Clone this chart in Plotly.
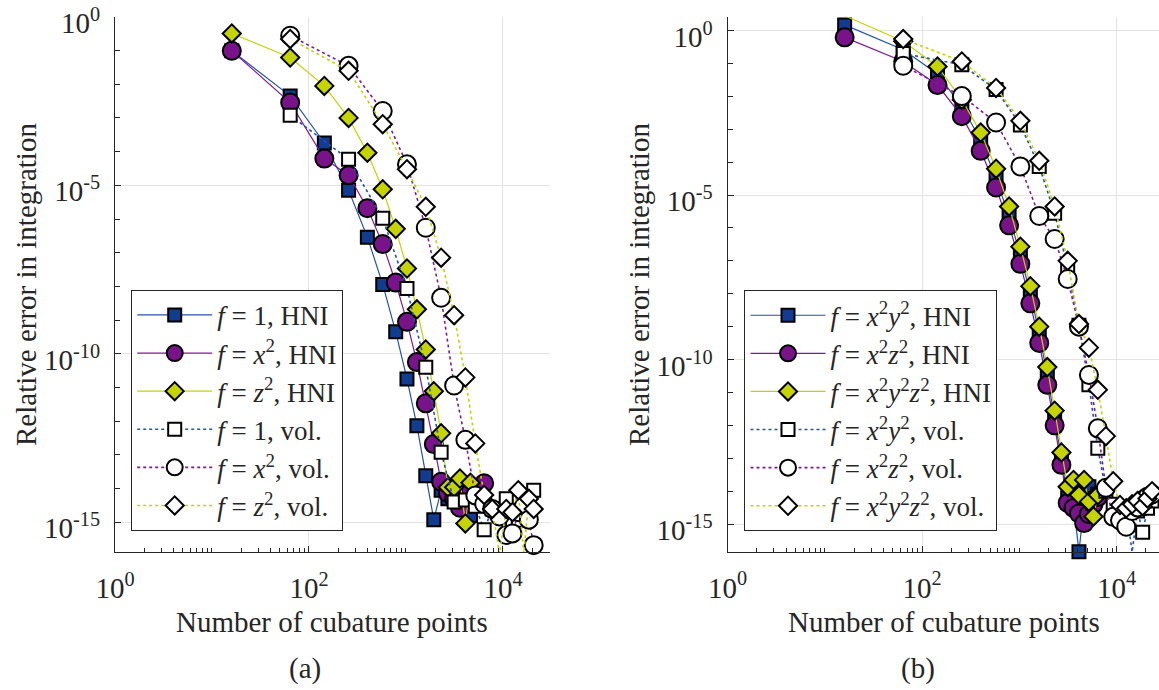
import plotly.graph_objects as go

# ---------------- data: panel (a) ----------------
n_hni_a = [16, 64, 144, 256, 400, 576, 784, 1024, 1296, 1600, 1936, 2304, 2704,
           3136, 3600, 4096, 4624, 5184, 5776, 6400]
err_a_one_hni = [9.8e-2, 4.5e-3, 1.8e-4, 7.1e-6, 2.9e-7, 1.15e-8, 4.5e-10, 1.8e-11,
                 7.4e-13, 2.4e-14, 1.2e-15, 9e-15, 5e-15, 6e-15, 4e-15, 3e-15, 1.6e-15]
err_a_x2_hni = [9.8e-2, 2.85e-3, 6.2e-5, 2.0e-5, 2.1e-6, 1.8e-7, 1.3e-8, 8.9e-10,
                5.7e-11, 3.4e-12, 2.1e-13, 1.6e-14, 7.4e-15, 5e-15, 2.7e-15, 6e-15,
                9e-15, 5e-15, 8e-15, 1.45e-14]
err_a_z2_hni = [0.32, 0.062, 8.9e-3, 1.0e-3, 9.3e-5, 7.6e-6, 5.1e-7, 3.4e-8, 2.1e-9,
                1.35e-10, 7.8e-12, 4.4e-13, 1.1e-14, 1.1e-14, 2.0e-14, 9.3e-16, 1.5e-14]

n_vol_a = [64, 256, 576, 1024, 1600, 2304, 3136, 4096, 5184, 6400, 7744, 9216,
           10816, 12544, 14400, 16384, 18496, 20736]
err_a_one_vol = [1.2e-3, 5.9e-5, 1.05e-6, 8.7e-9, 4.0e-11, 1.2e-13, 4e-15, 4.6e-15,
                 3e-15, 6e-16, 2.5e-15, 1.6e-15, 5e-15, 1.2e-15, 1.15e-15, 3e-15,
                 6e-15, 9e-15]
err_a_x2_vol = [0.275, 0.035, 1.6e-3, 4.2e-5, 5.5e-7, 4.6e-9, 1.15e-11, 2.8e-13,
                6.3e-15, 3.5e-15, 2.5e-15, 1.5e-15, 4.2e-16, 4.7e-16, 2.0e-15, 3.0e-15,
                1.2e-15, 2.1e-16]
err_a_z2_vol = [0.22, 0.025, 6.5e-4, 3.0e-5, 2.3e-6, 7.1e-8, 1.4e-9, 2.0e-11, 2.2e-13,
                6.5e-15, 2.5e-15, 1.2e-16, 2.5e-15, 2e-15, 9e-15, 1.2e-16, 5e-15, 2.5e-15]

# ---------------- data: panel (b) ----------------
n_hni_b = [16, 64, 144, 256, 400, 576, 784, 1024, 1296, 1600, 1936, 2304, 2704,
           3136, 3600, 4096, 4624, 5184, 5776, 6400]
err_b_xy_hni = [1.48, 0.26, 0.048, 4.9e-3, 4.8e-4, 3.2e-5, 2.2e-6, 1.5e-7, 1e-8,
                6.3e-10, 3.2e-11, 1.8e-12, 1e-13, 6.3e-15, 4e-15, 1.45e-16, 4e-15,
                1.35e-14, 6e-15, 8e-15]
err_b_xz_hni = [0.62, 0.115, 0.022, 2.5e-3, 2.2e-4, 1.7e-5, 1.2e-6, 8.1e-8, 5.1e-9,
                3.2e-10, 1.7e-11, 1e-12, 6.3e-14, 4.4e-15, 3.1e-15, 2.1e-15, 1.07e-15,
                2e-15, 4e-15, 6.6e-15]
err_b_xyz_hni = [2.8, 0.47, 0.081, 7.9e-3, 7.9e-4, 6.3e-5, 4.5e-6, 2.7e-7, 1.7e-8,
                 1e-9, 5.9e-11, 2.8e-12, 1.5e-13, 1.35e-14, 2.2e-14, 7.6e-15, 2.2e-14,
                 4.8e-15, 1.7e-15, 7.6e-15]

n_vol_b = [64, 256, 576, 1024, 1600, 2304, 3136, 4096, 5184, 6400, 7744, 9216,
           10816, 12544, 14400, 16384, 18496, 20736, 23104]
err_b_xy_vol = [0.2, 0.091, 0.016, 1.35e-3, 7.4e-5, 2.8e-6, 6e-8, 1.1e-9, 1.7e-11,
                2e-13, 1e-14, 4e-15, 2.5e-15, 3e-15, 1.4e-16, 2.5e-15, 5.6e-16, 3e-15,
                5e-15]
err_b_xz_vol = [0.085, 0.0102, 1.6e-3, 7.4e-5, 2.3e-6, 4.6e-7, 2.8e-8, 1e-9, 3.4e-11,
                8.1e-13, 1.26e-14, 1.66e-15, 1.3e-15, 8.3e-16, 2.5e-15, 3.2e-15,
                5.4e-15, 6.8e-15, 8e-15]
err_b_xyz_vol = [0.55, 0.115, 0.018, 1.8e-3, 1.1e-4, 4.5e-6, 1e-7, 1.2e-9, 2.3e-10,
                 1.2e-11, 4.7e-13, 2e-14, 3.8e-15, 3e-15, 4e-15, 5e-15, 3.5e-15, 6e-15,
                 1e-14]

names_a = ["<i>f</i> = 1, HNI", "<i>f</i> = <i>x</i><sup>2</sup>, HNI",
           "<i>f</i> = <i>z</i><sup>2</sup>, HNI", "<i>f</i> = 1, vol.",
           "<i>f</i> = <i>x</i><sup>2</sup>, vol.", "<i>f</i> = <i>z</i><sup>2</sup>, vol."]
names_b = ["<i>f</i> = <i>x</i><sup>2</sup><i>y</i><sup>2</sup>, HNI",
           "<i>f</i> = <i>x</i><sup>2</sup><i>z</i><sup>2</sup>, HNI",
           "<i>f</i> = <i>x</i><sup>2</sup><i>y</i><sup>2</sup><i>z</i><sup>2</sup>, HNI",
           "<i>f</i> = <i>x</i><sup>2</sup><i>y</i><sup>2</sup>, vol.",
           "<i>f</i> = <i>x</i><sup>2</sup><i>z</i><sup>2</sup>, vol.",
           "<i>f</i> = <i>x</i><sup>2</sup><i>y</i><sup>2</sup><i>z</i><sup>2</sup>, vol."]

xtick_vals = [1, 100, 10000]
xtick_text = ["10<sup>0</sup>", "10<sup>2</sup>", "10<sup>4</sup>"]
ytick_vals = [1, 1e-5, 1e-10, 1e-15]
ytick_text = ["10<sup>0</sup>", "10<sup>-5</sup>", "10<sup>-10</sup>", "10<sup>-15</sup>"]

# ---------------- styles ----------------
FONT = "Liberation Serif, Times New Roman, serif"
FS = 29
FS_LEG = 27
TXT = "#262626"
line_cols = ["#2452b0", "#7d1a94", "#c2d400"]
fill_cols = ["#113c8f", "#79138a", "#c5d400"]
symbols = ["square", "circle", "diamond"]
msizes = [13, 18, 14]
EDGE = 2

fig = go.Figure()


def add_panel(xa, ya, leg, n_hni, hni, n_vol, vol, names):
    for i, e in enumerate(hni):
        fig.add_trace(go.Scatter(
            x=n_hni[:len(e)], y=e, mode="lines+markers", name=names[i],
            xaxis=xa, yaxis=ya, legend=leg, cliponaxis=False,
            line=dict(color=line_cols[i], width=1.2),
            marker=dict(symbol=symbols[i], size=msizes[i], color=fill_cols[i],
                        line=dict(color="black", width=EDGE))))
    for i, e in enumerate(vol):
        fig.add_trace(go.Scatter(
            x=n_vol[:len(e)], y=e, mode="lines+markers", name=names[3 + i],
            xaxis=xa, yaxis=ya, legend=leg, cliponaxis=False,
            line=dict(color=line_cols[i], width=1.6, dash="dot"),
            marker=dict(symbol=symbols[i], size=msizes[i], color="white",
                        line=dict(color="black", width=EDGE))))


add_panel("x", "y", "legend", n_hni_a, [err_a_one_hni, err_a_x2_hni, err_a_z2_hni],
          n_vol_a, [err_a_one_vol, err_a_x2_vol, err_a_z2_vol], names_a)
add_panel("x2", "y2", "legend2", n_hni_b, [err_b_xy_hni, err_b_xz_hni, err_b_xyz_hni],
          n_vol_b, [err_b_xy_vol, err_b_xz_vol, err_b_xyz_vol], names_b)

W, H = 1159, 690
x_minor = [m * 10 ** k for k in range(0, 5) for m in range(1, 10) if not (m == 1 and k % 2 == 0)]
y_minor = [10.0 ** k for k in range(-16, 1)]

tickfont = dict(family=FONT, size=FS, color=TXT)
common_x = dict(type="log", tickmode="array", tickvals=xtick_vals, ticktext=xtick_text,
                ticks="inside", ticklen=6, tickcolor=TXT, showline=True, linecolor=TXT,
                linewidth=1.3, mirror=False, showgrid=True, gridcolor="#e3e3e3",
                gridwidth=1, zeroline=False, tickfont=tickfont, automargin=False,
                ticklabelstandoff=10, ticklabeloverflow="allow",
                minor=dict(tickmode="array", tickvals=x_minor, ticks="inside", ticklen=4,
                           tickcolor=TXT, showgrid=False))
common_y = dict(type="log", tickmode="array", tickvals=ytick_vals, ticktext=ytick_text,
                ticks="inside", ticklen=6, tickcolor=TXT, showline=True, linecolor=TXT,
                linewidth=1.3, mirror=False, showgrid=True, gridcolor="#e3e3e3",
                gridwidth=1, zeroline=False, tickfont=tickfont, automargin=False,
                ticklabelstandoff=8, ticklabelshift=6, ticklabeloverflow="allow",
                minor=dict(tickmode="array", tickvals=y_minor, ticks="inside", ticklen=5,
                           tickcolor=TXT, showgrid=False))

legend_common = dict(font=dict(family=FONT, size=FS_LEG, color=TXT), bgcolor="white",
                     bordercolor=TXT, borderwidth=1.2, xanchor="left", yanchor="bottom",
                     itemwidth=75, tracegroupgap=0)

fig.update_layout(
    template="none",
    width=W, height=H, margin=dict(l=0, r=0, t=0, b=0, autoexpand=False),
    paper_bgcolor="white", plot_bgcolor="white",
    font=dict(family=FONT, size=FS, color=TXT),
    xaxis=dict(common_x, domain=[115 / W, 550 / W], range=[0, 4.485], anchor="y"),
    yaxis=dict(common_y, domain=[1 - 552 / H, 1 - 16.7 / H], range=[-15.88, 0.003], anchor="x"),
    xaxis2=dict(common_x, domain=[727.5 / W, 1.0], range=[0, 4.435], anchor="y2"),
    yaxis2=dict(common_y, domain=[1 - 551.7 / H, 1 - 16.7 / H], range=[-15.84, 0.42], anchor="x2"),
    legend=dict(legend_common, x=131 / W, y=1 - 530.7 / H),
    legend2=dict(legend_common, x=744.3 / W, y=1 - 531 / H),
    showlegend=True,
)

ann_font = dict(family=FONT, size=FS, color=TXT)
annots = [
    dict(text="Relative error in integration", x=26 / W, y=1 - 285 / H, textangle=-90),
    dict(text="Relative error in integration", x=639 / W, y=1 - 285 / H, textangle=-90),
    dict(text="Number of cubature points", x=332 / W, y=1 - 622 / H),
    dict(text="Number of cubature points", x=944 / W, y=1 - 622 / H),
    dict(text="(a)", x=305 / W, y=1 - 668 / H),
    dict(text="(b)", x=918 / W, y=1 - 668 / H),
]
for a in annots:
    fig.add_annotation(xref="paper", yref="paper", showarrow=False, font=ann_font,
                       xanchor="center", yanchor="middle", **a)

fig.write_html("out.html")
